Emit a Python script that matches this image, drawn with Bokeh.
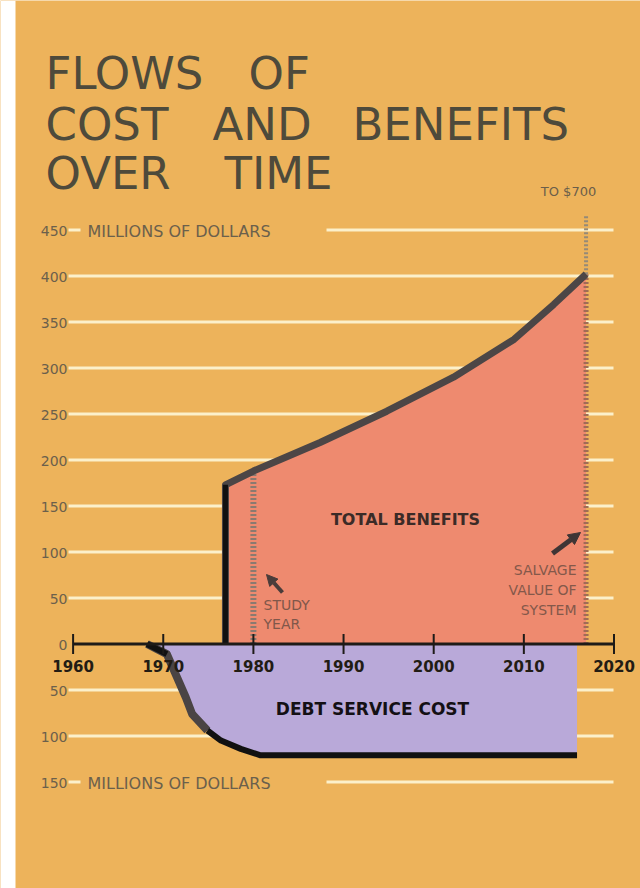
from bokeh.plotting import figure
from bokeh.models import Range1d, Arrow, NormalHead, BoxAnnotation
from bokeh.core.properties import value
from bokeh.embed import file_html
from bokeh.resources import INLINE

# ---------------- data ----------------
benefit_years = [1976.9, 1980.0, 1987.4, 1994.8, 2002.2, 2008.9, 2013.3, 2016.9]
benefit_values = [173, 188, 219, 253, 290, 331, 369, 402]
debt_years = [1968.2, 1970.4, 1971.7, 1972.5, 1973.2, 1974.9, 1976.4, 1978.6, 1980.8, 2015.9]
debt_values = [0, -11, -40, -58, -76, -94, -105, -114, -121, -121]
study_year = 1980.0
salvage_year = 2016.9
break_top_value = 466          # "to $700" continuation drawn up to here
x_ticks = [1960, 1970, 1980, 1990, 2000, 2010, 2020]
x_tick_labels = ["1960", "1970", "1980", "1990", "2000", "2010", "2020"]
y_ticks = [450, 400, 350, 300, 250, 200, 150, 100, 50, 0, -50, -100, -150]
y_tick_labels = ["450", "400", "350", "300", "250", "200", "150", "100", "50", "0", "50", "100", "150"]
unit_ticks = [450, -150]       # rows carrying the unit caption
unit_label = "MILLIONS OF DOLLARS"
title_lines = [["FLOWS", "OF"], ["COST", "AND", "BENEFITS"], ["OVER", "TIME"]]

# ---------------- layout ----------------
W, H = 640, 888
FRAME_LEFT, FRAME_TOP = 0, 0     # picture position of the plotting canvas
PX_YEAR = 9.015
PX_UNIT = 0.92
X1960 = 72.6
Y0 = 643.5
x_start = 1960 - (X1960 - FRAME_LEFT) / PX_YEAR
x_end = x_start + W / PX_YEAR
y_end = (Y0 - FRAME_TOP) / PX_UNIT
y_start = y_end - H / PX_UNIT


def px(page_x):
    return 1960 + (page_x - X1960) / PX_YEAR


def py(page_y):
    return (Y0 - page_y) / PX_UNIT


BG = "#EDB35B"
GRID = "#FCF0CA"
PINK = "#EE8A6F"
PURPLE = "#B9A9D9"
LABEL = "#6b604c"

p = figure(width=W, height=H, output_backend="svg", toolbar_location=None,
           x_axis_type=None, y_axis_type=None,
           x_range=Range1d(x_start, x_end), y_range=Range1d(y_start, y_end),
           min_border_left=0, min_border_right=0, min_border_top=0, min_border_bottom=0)
p.background_fill_color = BG
p.border_fill_color = BG
p.outline_line_color = None

# white scan margin on the left
p.add_layout(BoxAnnotation(right=px(15), fill_color="white", fill_alpha=1.0, line_color=None, level="underlay"))

# ---------------- grid lines ----------------
full_rows = [t for t in y_ticks if t not in unit_ticks and t != 0]
p.segment(x0=[px(68)] * len(full_rows), x1=[px(613)] * len(full_rows),
          y0=full_rows, y1=full_rows, line_color=GRID, line_width=3)
p.segment(x0=[px(68)] * len(unit_ticks), x1=[px(80)] * len(unit_ticks),
          y0=unit_ticks, y1=unit_ticks, line_color=GRID, line_width=3)
p.segment(x0=[px(326)] * len(unit_ticks), x1=[px(613)] * len(unit_ticks),
          y0=unit_ticks, y1=unit_ticks, line_color=GRID, line_width=3)

# ---------------- areas ----------------
p.varea(x=benefit_years, y1=[0] * len(benefit_years), y2=benefit_values, fill_color=PINK)
p.varea(x=debt_years, y1=[0] * len(debt_years), y2=debt_values, fill_color=PURPLE)

# study year and salvage lines
study_top = benefit_values[0] + (benefit_values[1] - benefit_values[0]) * \
    (study_year - benefit_years[0]) / (benefit_years[1] - benefit_years[0])
p.line([study_year, study_year], [0, study_top], line_color="#8a7a70", line_width=6, line_dash="2 2")
p.line([salvage_year, salvage_year], [0, benefit_values[-1]], line_color="#a06c55", line_width=5, line_dash="2 2")
p.line([salvage_year, salvage_year], [benefit_values[-1], break_top_value], line_color="#958a78",
       line_width=4, line_dash="2 2")

# outlines
p.line([benefit_years[0]] + benefit_years, [0] + benefit_values, line_color="#4c4646", line_width=7,
       line_join="round")
p.line([benefit_years[0], benefit_years[0]], [0, benefit_values[0]], line_color="#111111", line_width=5)
p.line(debt_years[:6], debt_values[:6], line_color="#4a4444", line_width=8, line_join="round")
p.line(debt_years[5:], debt_values[5:], line_color="#111111", line_width=6, line_join="round")
p.line(debt_years[:2], debt_values[:2], line_color="#111111", line_width=6)

# zero axis
p.line([x_ticks[0], x_ticks[-1]], [0, 0], line_color="#1e1b18", line_width=3)
tick_len = 10 / PX_UNIT
p.segment(x0=x_ticks, x1=x_ticks, y0=[-tick_len] * len(x_ticks), y1=[tick_len] * len(x_ticks),
          line_color="#1e1b18", line_width=2)

# ---------------- texts ----------------
p.text(x=x_ticks, y=[py(665.5)] * len(x_ticks), text=x_tick_labels,
       text_font=value("DejaVu Sans"), text_font_style="bold", text_font_size="15px",
       text_color="#221c14", text_align="center", text_baseline="middle")
p.text(x=[px(67)] * len(y_ticks), y=[t - 1.5 for t in y_ticks], text=y_tick_labels,
       text_font=value("DejaVu Sans"), text_font_size="14px",
       text_color=LABEL, text_align="right", text_baseline="middle")
p.text(x=[px(87)] * len(unit_ticks), y=[t - 1.5 for t in unit_ticks], text=[unit_label] * len(unit_ticks),
       text_font=value("DejaVu Sans"), text_font_size="16px",
       text_color=LABEL, text_align="left", text_baseline="middle")

p.text(x=[px(405)], y=[py(519)], text=["TOTAL BENEFITS"], text_font=value("DejaVu Sans"),
       text_font_style="bold", text_font_size="16px", text_color="#3b2b27",
       text_align="center", text_baseline="middle")
p.text(x=[px(372)], y=[py(708)], text=["DEBT SERVICE COST"], text_font=value("DejaVu Sans"),
       text_font_style="bold", text_font_size="17px", text_color="#141014",
       text_align="center", text_baseline="middle")
p.text(x=[px(263)] * 2, y=[py(604), py(623)], text=["STUDY", "YEAR"], text_font=value("DejaVu Sans"),
       text_font_size="14px", text_color="#80574a", text_align="left", text_baseline="middle")
p.text(x=[px(576)] * 3, y=[py(569), py(589), py(609)], text=["SALVAGE", "VALUE OF", "SYSTEM"],
       text_font=value("DejaVu Sans"), text_font_size="14px", text_color="#84584a",
       text_align="right", text_baseline="middle")
p.text(x=[px(568)], y=[py(191)], text=["TO $700"], text_font=value("DejaVu Sans"),
       text_font_size="13px", text_color="#6b5e4a", text_align="center", text_baseline="middle")

# title (each word placed at its position in the original lettering)
word_x = [[45, 248], [45, 212, 352], [45, 224]]
line_y = [73, 124, 173]
tx, ty, tt = [], [], []
for words, xs, yy in zip(title_lines, word_x, line_y):
    for w, xx in zip(words, xs):
        tx.append(px(xx))
        ty.append(py(yy))
        tt.append(w)
p.text(x=tx, y=ty, text=tt, text_font=value("DejaVu Sans"), text_font_size="45px",
       text_color="#4e4a3b", text_align="left", text_baseline="middle")

# arrows
p.add_layout(Arrow(x_start=px(282), y_start=py(592), x_end=px(266), y_end=py(574),
                   line_color="#4a3c3a", line_width=4,
                   end=NormalHead(size=11, fill_color="#4a3c3a", line_color="#4a3c3a")))
p.add_layout(Arrow(x_start=px(552), y_start=py(553), x_end=px(580), y_end=py(532),
                   line_color="#3f3535", line_width=5,
                   end=NormalHead(size=12, fill_color="#3f3535", line_color="#3f3535")))

open("out.html", "w").write(file_html(p, INLINE))
